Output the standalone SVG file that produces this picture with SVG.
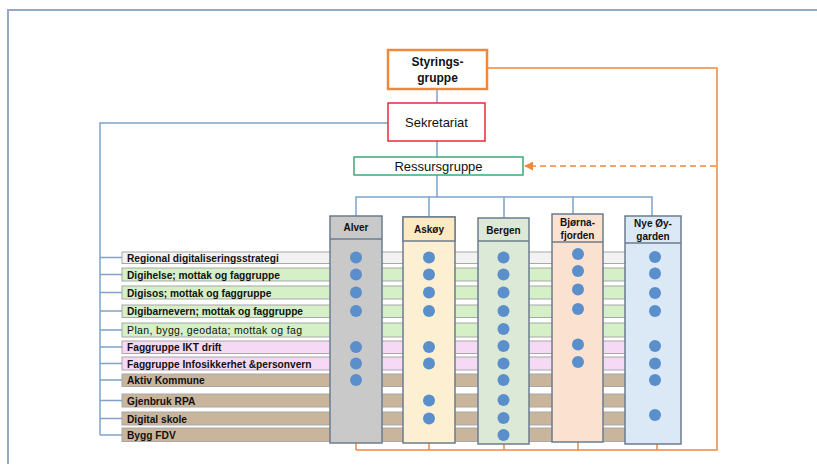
<svg xmlns="http://www.w3.org/2000/svg" width="817" height="468" viewBox="0 0 817 468">
<defs>
<style>
.t{font-family:"Liberation Sans",Arial,sans-serif;fill:#111}
.b{font-weight:bold}
.lbl{font-size:10.2px;font-weight:bold}
.conn{stroke:#7fa2cc;stroke-width:1.5;fill:none}
.or{stroke:#f0883c;stroke-width:1.5;fill:none}
.band{stroke:#a8a8a8;stroke-width:1}
.col{stroke:#6b7c8e;stroke-width:1.5}
.dot{fill:#5b8fcc}
</style>
<marker id="ah" viewBox="0 0 10 10" refX="9" refY="5" markerWidth="6" markerHeight="6" orient="auto-start-reverse">
<path d="M0,0 L10,5 L0,10 z" fill="#f0883c"/>
</marker>
</defs>
<rect width="817" height="468" fill="#ffffff"/>
<g id="frame">
<path d="M8,464 L8,10 L817,10" fill="none" stroke="#95a8c6" stroke-width="2"/>
</g>

<g id="rows">
<g id="row1"><rect class="band" x="122" y="252" width="515" height="11.5" fill="#f2f2f2"/><text class="t lbl" x="127" y="261.5">Regional digitaliseringsstrategi</text></g>
<g id="row2"><rect class="band" x="122" y="268" width="515" height="13" fill="#d5f0c6"/><text class="t lbl" x="127" y="278.5">Digihelse; mottak og faggruppe</text></g>
<g id="row3"><rect class="band" x="122" y="286" width="515" height="13" fill="#d5f0c6"/><text class="t lbl" x="127" y="296.5">Digisos; mottak og faggruppe</text></g>
<g id="row4"><rect class="band" x="122" y="305" width="515" height="12.5" fill="#d5f0c6"/><text class="t lbl" x="127" y="315">Digibarnevern; mottak og faggruppe</text></g>
<g id="row5"><rect class="band" x="122" y="323" width="515" height="14" fill="#d5f0c6"/><text class="t" style="font-size:10.5px" x="127" y="334" textLength="175" lengthAdjust="spacing">Plan, bygg, geodata; mottak  og  fag</text></g>
<g id="row6"><rect class="band" x="122" y="341" width="515" height="12.5" fill="#f6d9f4"/><text class="t lbl" x="127" y="351">Faggruppe IKT drift</text></g>
<g id="row7"><rect class="band" x="122" y="357" width="515" height="13" fill="#f6d9f4"/><text class="t lbl" x="127" y="367.5">Faggruppe Infosikkerhet &amp;personvern</text></g>
<g id="row8"><rect class="band" x="122" y="374" width="515" height="12.5" fill="#c9b59b"/><text class="t lbl" x="127" y="384">Aktiv Kommune</text></g>
<g id="row9"><rect class="band" x="122" y="394" width="515" height="13" fill="#c9b59b"/><text class="t lbl" x="127" y="404.5">Gjenbruk RPA</text></g>
<g id="row10"><rect class="band" x="122" y="412" width="515" height="13" fill="#c9b59b"/><text class="t lbl" x="127" y="422.5">Digital skole</text></g>
<g id="row11"><rect class="band" x="122" y="428" width="515" height="13.5" fill="#c9b59b"/><text class="t lbl" x="127" y="438.5">Bygg FDV</text></g>
</g>

<g id="connectors">
<path class="conn" d="M437,89 L437,103 M437,141 L437,157 M437,175 L437,197 M356,216 L356,197 L652,197 L652,216 M429,197 L429,217 M504,197 L504,218 M573,197 L573,214"/>
<path class="conn" d="M388,123 L100,123 L100,435"/>
<path class="conn" d="M100,257.5 H122 M100,274.5 H122 M100,292.5 H122 M100,311 H122 M100,330 H122 M100,347 H122 M100,363.5 H122 M100,380 H122 M100,400.5 H122 M100,418.5 H122 M100,435 H122"/>
<path class="or" d="M487,68 L717,68 L717,450 L356,450 M356,443 L356,450 M429,443 L429,450 M504,444 L504,450 M578,442 L578,450 M657,444 L657,450"/>
<path class="or" d="M716,166 L525,166" stroke-dasharray="6,4" marker-end="url(#ah)"/>
</g>

<g id="styringsgruppe">
<rect x="388" y="50" width="99" height="39" fill="#ffffff" stroke="#f0883c" stroke-width="2.5"/>
<text class="t b" x="437.5" y="66" text-anchor="middle" font-size="12">Styrings-</text>
<text class="t b" x="437.5" y="82" text-anchor="middle" font-size="12">gruppe</text>
</g>
<g id="sekretariat">
<rect x="388" y="103" width="97" height="38" fill="#ffffff" stroke="#e8283c" stroke-width="1.5"/>
<text class="t" x="436.5" y="127" text-anchor="middle" font-size="13">Sekretariat</text>
</g>
<g id="ressursgruppe">
<rect x="354" y="157" width="169" height="18" fill="#ffffff" stroke="#3aaa78" stroke-width="1.5"/>
<text class="t" x="438.5" y="171" text-anchor="middle" font-size="13">Ressursgruppe</text>
</g>

<g id="alver">
<rect class="col" x="330" y="216" width="52" height="227" fill="#c9c9c9"/>
<line class="col" x1="330" y1="239" x2="382" y2="239"/>
<text class="t b" x="356" y="231" text-anchor="middle" font-size="10">Alver</text>
<g class="dot"><circle cx="356" cy="257.5" r="6"/><circle cx="356" cy="274.5" r="6"/><circle cx="356" cy="292.5" r="6"/><circle cx="356" cy="311" r="6"/><circle cx="356" cy="347" r="6"/><circle cx="356" cy="363.5" r="6"/><circle cx="356" cy="380" r="6"/></g>
</g>
<g id="askoy">
<rect class="col" x="403" y="217" width="52" height="226" fill="#fdefd2"/>
<rect class="col" x="403" y="217" width="52" height="24" fill="#fde9c2"/>
<text class="t b" x="429" y="233" text-anchor="middle" font-size="10">Askøy</text>
<g class="dot"><circle cx="429" cy="257.5" r="6"/><circle cx="429" cy="274.5" r="6"/><circle cx="429" cy="292.5" r="6"/><circle cx="429" cy="311" r="6"/><circle cx="429" cy="347" r="6"/><circle cx="429" cy="363.5" r="6"/><circle cx="429" cy="400.5" r="6"/><circle cx="429" cy="418.5" r="6"/></g>
</g>
<g id="bergen">
<rect class="col" x="478" y="218" width="51" height="226" fill="#dce9d6"/>
<line class="col" x1="478" y1="241" x2="529" y2="241"/>
<text class="t b" x="503.5" y="234" text-anchor="middle" font-size="10">Bergen</text>
<g class="dot"><circle cx="503.5" cy="257.5" r="6"/><circle cx="503.5" cy="274.5" r="6"/><circle cx="503.5" cy="292.5" r="6"/><circle cx="503.5" cy="311" r="6"/><circle cx="503.5" cy="329" r="6"/><circle cx="503.5" cy="346" r="6"/><circle cx="503.5" cy="363.5" r="6"/><circle cx="503.5" cy="380" r="6"/><circle cx="503.5" cy="400" r="6"/><circle cx="503.5" cy="418" r="6"/><circle cx="503.5" cy="435" r="6"/></g>
</g>
<g id="bjornafjorden">
<rect class="col" x="552" y="214" width="51" height="228" fill="#fbe2d0"/>
<line class="col" x1="552" y1="242" x2="603" y2="242"/>
<text class="t b" x="577.5" y="226" text-anchor="middle" font-size="10">Bjørna-</text>
<text class="t b" x="577.5" y="239" text-anchor="middle" font-size="10">fjorden</text>
<g class="dot"><circle cx="578" cy="254" r="6"/><circle cx="578" cy="271" r="6"/><circle cx="578" cy="289.5" r="6"/><circle cx="578" cy="309" r="6"/><circle cx="578" cy="344.5" r="6"/><circle cx="578" cy="362" r="6"/></g>
</g>
<g id="nyeoygarden">
<rect class="col" x="625" y="216" width="56" height="228" fill="#dbe8f6"/>
<line class="col" x1="625" y1="243" x2="681" y2="243"/>
<text class="t b" x="653" y="227" text-anchor="middle" font-size="10">Nye Øy-</text>
<text class="t b" x="653" y="240" text-anchor="middle" font-size="10">garden</text>
<g class="dot"><circle cx="655" cy="257" r="6"/><circle cx="655" cy="273.5" r="6"/><circle cx="655" cy="293" r="6"/><circle cx="655" cy="311" r="6"/><circle cx="655" cy="346" r="6"/><circle cx="655" cy="363.5" r="6"/><circle cx="655" cy="380" r="6"/><circle cx="655" cy="415" r="6"/></g>
</g>
</svg>
